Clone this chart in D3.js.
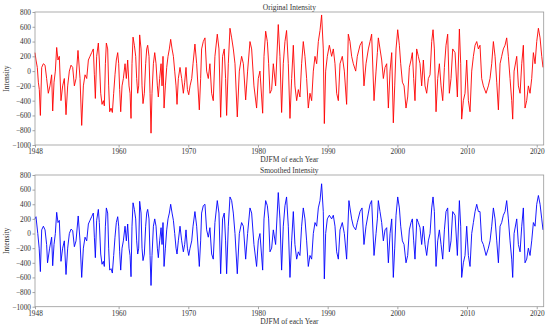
<!DOCTYPE html>
<html>
<head>
<meta charset="utf-8">
<script src="https://cdn.jsdelivr.net/npm/d3@7"></script>
<style>
  body { margin: 0; background: #fff; }
  svg text { font-family: "Liberation Serif", "DejaVu Serif", serif; fill: #333; }
</style>
</head>
<body>
<svg id="chart"></svg>
<script>
const canWidth = 550;
const canHeight = 328;
const left = 35;
const right = 543.7;

// tick labels
const yearTicks = [1948, 1960, 1970, 1980, 1990, 2000, 2010, 2020];
const intensityTicks = [-1000, -800, -600, -400, -200, 0, 200, 400, 600, 800];

// [year, intensity]
const original = [
[1948.0,250],[1948.14,150],[1948.33,50],[1948.48,-150],[1948.62,-250],[1948.77,-600],[1948.96,50],[1949.2,100],
[1949.44,80],[1949.67,-100],[1949.91,-300],[1950.15,-200],[1950.39,-50],[1950.54,-540],[1950.73,-150],[1950.92,0],
[1951.11,320],[1951.3,150],[1951.49,200],[1951.73,-400],[1951.97,-200],[1952.21,-100],[1952.45,-590],[1952.69,-200],
[1952.93,0],[1953.17,80],[1953.41,50],[1953.65,-200],[1953.89,-100],[1954.17,280],[1954.46,-100],[1954.7,-735],
[1954.94,-200],[1955.18,-50],[1955.42,-100],[1955.66,150],[1955.89,200],[1956.13,250],[1956.37,300],[1956.52,-50],
[1956.66,-370],[1956.85,200],[1957.09,380],[1957.23,150],[1957.43,-300],[1957.62,-450],[1957.81,-400],[1957.95,-470],
[1958.1,100],[1958.24,380],[1958.43,300],[1958.57,-200],[1958.72,-550],[1958.91,-500],[1959.1,-560],[1959.29,-300],
[1959.48,-50],[1959.67,150],[1959.87,250],[1960.01,100],[1960.15,-250],[1960.3,-550],[1960.49,-200],[1960.68,-100],
[1960.92,100],[1961.11,-100],[1961.3,150],[1961.49,-200],[1961.64,-300],[1961.78,-640],[1961.92,100],[1962.07,460],
[1962.26,350],[1962.45,200],[1962.59,-100],[1962.74,-300],[1962.88,-200],[1963.02,490],[1963.22,300],[1963.36,-200],
[1963.5,-440],[1963.69,-300],[1963.88,100],[1964.03,300],[1964.17,350],[1964.36,200],[1964.51,-300],[1964.65,-840],
[1964.79,-300],[1964.99,100],[1965.18,250],[1965.37,100],[1965.56,-200],[1965.7,-350],[1965.89,-100],[1966.09,100],
[1966.23,-200],[1966.37,200],[1966.52,-500],[1966.71,-200],[1966.9,50],[1967.09,200],[1967.28,300],[1967.47,430],
[1967.67,300],[1967.86,200],[1968.05,0],[1968.24,-200],[1968.38,-450],[1968.57,-100],[1968.81,50],[1969.05,-100],
[1969.29,-300],[1969.48,-150],[1969.67,50],[1969.87,-250],[1970.06,-320],[1970.25,-200],[1970.49,-100],[1970.68,100],
[1970.95,366],[1971.2,100],[1971.58,-525],[1971.77,-100],[1971.91,300],[1972.15,400],[1972.39,450],[1972.63,0],
[1972.87,-100],[1973.1,100],[1973.35,-300],[1973.58,-400],[1973.82,200],[1974.16,500],[1974.4,300],[1974.64,-625],
[1974.92,200],[1975.16,300],[1975.35,-100],[1975.5,-600],[1975.74,100],[1975.98,580],[1976.22,450],[1976.46,300],
[1976.7,100],[1977.03,-620],[1977.32,0],[1977.65,200],[1977.9,100],[1978.23,-390],[1978.51,0],[1978.85,400],
[1979.09,300],[1979.42,-200],[1979.8,-500],[1980.04,-100],[1980.28,0],[1980.67,-570],[1980.86,200],[1981.1,540],
[1981.34,400],[1981.53,100],[1981.72,-300],[1981.96,-250],[1982.2,100],[1982.53,-200],[1982.91,630],[1983.15,200],
[1983.39,-560],[1983.63,100],[1983.87,400],[1984.1,550],[1984.35,100],[1984.59,-640],[1984.83,-100],[1985.07,350],
[1985.3,-200],[1985.55,-400],[1985.79,-250],[1986.02,-350],[1986.26,100],[1986.5,400],[1986.74,200],[1986.98,-100],
[1987.22,-500],[1987.46,-300],[1987.7,-400],[1987.94,0],[1988.18,200],[1988.42,100],[1988.66,400],[1988.9,550],
[1989.13,760],[1989.37,300],[1989.52,-710],[1989.71,0],[1989.95,200],[1990.24,350],[1990.57,200],[1990.81,300],
[1991.05,100],[1991.29,-300],[1991.53,-400],[1991.77,100],[1992.1,200],[1992.39,0],[1992.72,-450],[1992.96,500],
[1993.2,400],[1993.44,200],[1993.68,100],[1994.02,0],[1994.25,200],[1994.64,350],[1994.93,400],[1995.21,-200],
[1995.5,100],[1995.84,300],[1996.08,400],[1996.31,500],[1996.65,-400],[1996.94,0],[1997.13,250],[1997.27,450],
[1997.51,300],[1997.75,150],[1997.99,-100],[1998.23,50],[1998.47,100],[1998.71,-500],[1998.95,0],[1999.19,250],
[1999.42,-700],[1999.62,-200],[1999.81,300],[2000.05,560],[2000.29,350],[2000.48,100],[2000.72,-150],[2000.96,-200],
[2001.24,-500],[2001.48,-350],[2001.72,50],[2001.96,150],[2002.15,250],[2002.34,-100],[2002.53,-400],[2002.77,300],
[2003.01,200],[2003.25,100],[2003.49,-200],[2003.73,150],[2003.97,-200],[2004.21,-300],[2004.45,-100],[2004.69,-50],
[2004.93,400],[2005.12,560],[2005.31,300],[2005.55,-550],[2005.79,-100],[2006.03,100],[2006.27,-200],[2006.51,-400],
[2006.75,50],[2006.98,350],[2007.22,500],[2007.46,-300],[2007.7,-100],[2007.94,300],[2008.28,250],[2008.61,-350],
[2008.9,570],[2009.09,100],[2009.23,-650],[2009.47,-400],[2009.71,-300],[2009.95,150],[2010.19,-400],[2010.43,-550],
[2010.67,0],[2010.91,200],[2011.15,350],[2011.39,400],[2011.63,300],[2011.86,350],[2012.1,-100],[2012.34,-200],
[2012.73,-300],[2013.06,-200],[2013.3,-100],[2013.54,100],[2013.78,400],[2014.02,200],[2014.26,-150],[2014.5,-525],
[2014.74,100],[2014.97,200],[2015.21,300],[2015.45,350],[2015.69,450],[2015.93,200],[2016.17,-100],[2016.41,-400],
[2016.55,-650],[2016.75,0],[2017.13,200],[2017.37,-200],[2017.61,-300],[2017.85,100],[2018.08,350],[2018.32,-500],
[2018.56,-400],[2018.8,-200],[2019.04,-300],[2019.28,-100],[2019.52,250],[2019.76,100],[2020.0,400],[2020.24,580],
[2020.48,450],[2020.72,200],[2020.9,50]
];

const smoothed = [
[1948.0,200],[1948.14,230],[1948.4,0],[1948.6,-200],[1948.77,-520],[1948.96,50],[1949.2,100],[1949.44,50],
[1949.67,-150],[1949.8,-400],[1950.1,-200],[1950.39,-50],[1950.54,-440],[1950.73,-150],[1950.92,0],[1951.11,290],
[1951.3,150],[1951.49,180],[1951.73,-380],[1951.97,-200],[1952.21,-100],[1952.45,-560],[1952.69,-200],[1952.93,0],
[1953.17,60],[1953.41,40],[1953.65,-180],[1953.89,-100],[1954.2,240],[1954.46,-100],[1954.7,-600],[1954.94,-200],
[1955.18,-50],[1955.42,-100],[1955.66,130],[1955.89,180],[1956.13,230],[1956.37,280],[1956.52,-50],[1956.66,-330],
[1956.85,180],[1957.09,330],[1957.23,150],[1957.43,-280],[1957.62,-420],[1957.81,-380],[1957.95,-450],[1958.1,100],
[1958.24,350],[1958.43,280],[1958.57,-200],[1958.72,-500],[1958.91,-480],[1959.1,-540],[1959.29,-300],[1959.48,-50],
[1959.67,150],[1959.87,230],[1960.01,100],[1960.15,-250],[1960.3,-500],[1960.49,-200],[1960.68,-100],[1960.92,100],
[1961.11,-100],[1961.3,130],[1961.49,-200],[1961.64,-300],[1961.78,-590],[1961.92,100],[1962.07,420],[1962.26,330],
[1962.45,200],[1962.59,-100],[1962.74,-280],[1962.88,-200],[1963.02,440],[1963.22,280],[1963.36,-200],[1963.5,-370],
[1963.69,-280],[1963.88,100],[1964.03,280],[1964.17,330],[1964.36,200],[1964.51,-300],[1964.65,-710],[1964.79,-300],
[1964.99,100],[1965.18,200],[1965.37,100],[1965.56,-200],[1965.7,-330],[1965.89,-100],[1966.09,80],[1966.23,-150],
[1966.37,150],[1966.52,-450],[1966.71,-200],[1966.9,50],[1967.09,200],[1967.28,280],[1967.47,400],[1967.67,280],
[1967.86,180],[1968.05,0],[1968.24,-200],[1968.38,-280],[1968.57,-100],[1968.81,100],[1969.05,-100],[1969.29,-250],
[1969.48,-150],[1969.67,50],[1969.87,-200],[1970.06,-300],[1970.25,-200],[1970.49,-100],[1970.68,100],[1970.95,300],
[1971.2,100],[1971.58,-450],[1971.77,-100],[1971.91,280],[1972.15,380],[1972.39,400],[1972.63,50],[1972.87,-50],
[1973.1,80],[1973.35,-280],[1973.58,-350],[1973.82,150],[1974.16,450],[1974.4,280],[1974.64,-550],[1974.92,200],
[1975.16,280],[1975.35,-100],[1975.5,-550],[1975.74,100],[1975.98,500],[1976.22,450],[1976.46,280],[1976.7,0],
[1977.03,-550],[1977.32,0],[1977.65,150],[1977.9,100],[1978.23,-350],[1978.51,0],[1978.85,350],[1979.09,280],
[1979.42,-150],[1979.8,-450],[1980.04,-100],[1980.28,0],[1980.67,-500],[1980.86,200],[1981.1,450],[1981.34,380],
[1981.53,200],[1981.72,-250],[1981.96,-200],[1982.2,50],[1982.53,-150],[1982.91,560],[1983.15,200],[1983.39,-500],
[1983.63,100],[1983.87,380],[1984.1,500],[1984.35,100],[1984.59,-600],[1984.83,-100],[1985.07,300],[1985.3,-150],
[1985.55,-350],[1985.79,-250],[1986.02,-300],[1986.26,100],[1986.5,350],[1986.74,200],[1986.98,-100],[1987.22,-450],
[1987.46,-300],[1987.7,-350],[1987.94,0],[1988.18,150],[1988.42,100],[1988.66,350],[1988.9,450],[1989.13,680],
[1989.37,300],[1989.52,-620],[1989.71,0],[1989.95,200],[1990.24,250],[1990.57,200],[1990.81,250],[1991.05,100],
[1991.29,-250],[1991.53,-350],[1991.77,50],[1992.1,150],[1992.39,0],[1992.72,-350],[1993.05,450],[1993.2,350],
[1993.44,200],[1993.68,100],[1994.02,50],[1994.25,150],[1994.64,300],[1994.93,350],[1995.21,-150],[1995.5,100],
[1995.84,280],[1996.08,400],[1996.31,450],[1996.65,-300],[1996.94,0],[1997.13,200],[1997.27,450],[1997.51,300],
[1997.75,150],[1997.99,-100],[1998.23,50],[1998.47,80],[1998.71,-400],[1998.95,0],[1999.19,200],[1999.42,-600],
[1999.62,-200],[1999.81,250],[2000.05,500],[2000.29,350],[2000.48,100],[2000.72,-100],[2000.96,-150],[2001.24,-400],
[2001.48,-300],[2001.72,50],[2001.96,150],[2002.15,200],[2002.34,-100],[2002.53,-350],[2002.8,200],[2003.01,150],
[2003.25,80],[2003.49,-150],[2003.73,100],[2003.97,-150],[2004.21,-300],[2004.45,-100],[2004.69,0],[2004.93,350],
[2005.12,500],[2005.31,300],[2005.55,-450],[2005.79,-100],[2006.03,50],[2006.27,-150],[2006.51,-350],[2006.75,50],
[2006.98,300],[2007.22,350],[2007.46,-250],[2007.7,-100],[2007.94,300],[2008.28,250],[2008.61,-300],[2008.9,450],
[2009.09,100],[2009.23,-600],[2009.47,-400],[2009.71,-300],[2009.95,100],[2010.19,-300],[2010.43,-450],[2010.67,0],
[2010.91,150],[2011.15,300],[2011.39,400],[2011.63,300],[2011.86,300],[2012.1,-100],[2012.34,-150],[2012.73,-300],
[2013.06,-200],[2013.3,-100],[2013.54,100],[2013.78,350],[2014.02,200],[2014.26,-100],[2014.5,-400],[2014.74,100],
[2014.97,150],[2015.21,250],[2015.45,300],[2015.69,450],[2015.93,200],[2016.17,-100],[2016.41,-350],[2016.55,-600],
[2016.75,0],[2017.13,200],[2017.37,-150],[2017.61,-250],[2017.85,100],[2018.08,350],[2018.32,-400],[2018.56,-350],
[2018.8,-200],[2019.04,-300],[2019.28,-100],[2019.52,150],[2019.76,100],[2020.0,400],[2020.24,520],[2020.48,400],
[2020.72,200],[2020.9,50]
];

const panels = [
  { title: "Original Intensity", data: original, color: "#ff0000", top: 12, bottom: 145 },
  { title: "Smoothed Intensity", data: smoothed, color: "#0000ff", top: 175, bottom: 306.7 }
];

const svg = d3.select('#chart').attr('width', canWidth).attr('height', canHeight);
const xs = d3.scaleLinear().domain([1948, 2021]).range([left, right]);

function drawPanel(p) {
    const ys = d3.scaleLinear().domain([-1000, 800]).range([p.bottom, p.top]);
    const g = svg.append('g');

    const xa = d3.axisBottom(xs).tickValues(yearTicks).tickFormat(d3.format("d"))
        .tickSize(2.5).tickPadding(1.5);
    const ya = d3.axisLeft(ys).tickValues(intensityTicks).tickFormat(d3.format("d"))
        .tickSize(2.5).tickPadding(1.5);

    g.append('g').attr('transform', `translate(0, ${p.bottom})`).call(xa);
    g.append('g').attr('transform', `translate(${left}, 0)`).call(ya);
    g.selectAll('.domain').remove();
    g.selectAll('.tick line').attr('stroke', '#666').attr('stroke-width', 0.6);
    g.selectAll('.tick text').style('font-size', '7.3px').attr('fill', '#333');

    const line = d3.line()
        .x(d => xs(d[0]))
        .y(d => ys(d[1]));

    g.append('path')
      .datum(p.data)
      .attr('d', line)
      .attr('fill', 'none')
      .attr('stroke', p.color)
      .attr('stroke-width', 0.9)
      .attr('stroke-linejoin', 'round');

    g.append('rect')
      .attr('x', left).attr('y', p.top)
      .attr('width', right - left).attr('height', p.bottom - p.top)
      .attr('fill', 'none').attr('stroke', '#999').attr('stroke-width', 0.8);

    g.append('text')
      .attr('x', (left + right) / 2).attr('y', p.top - 2.5)
      .attr('text-anchor', 'middle').style('font-size', '7.5px')
      .text(p.title);

    g.append('text')
      .attr('x', (left + right) / 2).attr('y', p.bottom + 17)
      .attr('text-anchor', 'middle').style('font-size', '7.5px')
      .text("DJFM of each Year");

    g.append('text')
      .attr('transform', `translate(9, ${(p.top + p.bottom) / 2}) rotate(-90)`)
      .attr('text-anchor', 'middle').style('font-size', '7.5px')
      .text("Intensity");
}

panels.forEach(drawPanel);
</script>
</body>
</html>
